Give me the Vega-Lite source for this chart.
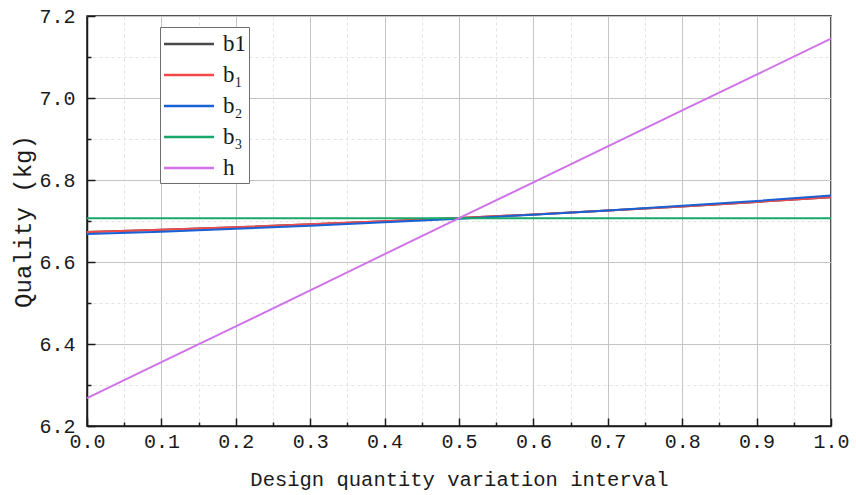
{
  "$schema": "https://vega.github.io/schema/vega-lite/v6.json",
  "width": 744,
  "height": 410,
  "autosize": {"type": "none"},
  "padding": {"left": 87, "top": 16, "right": 25, "bottom": 69},
  "background": "white",
  "config": {
    "view": {"stroke": "#1a1a1a", "strokeWidth": 1.5},
    "font": "Liberation Mono"
  },
  "data": {
    "values": [
      {"x": 0.0, "y": 6.673, "s": "b1"},
      {"x": 0.1, "y": 6.6785, "s": "b1"},
      {"x": 0.2, "y": 6.6848, "s": "b1"},
      {"x": 0.3, "y": 6.6918, "s": "b1"},
      {"x": 0.4, "y": 6.6993, "s": "b1"},
      {"x": 0.5, "y": 6.7073, "s": "b1"},
      {"x": 0.6, "y": 6.716, "s": "b1"},
      {"x": 0.7, "y": 6.7255, "s": "b1"},
      {"x": 0.8, "y": 6.7356, "s": "b1"},
      {"x": 0.9, "y": 6.7465, "s": "b1"},
      {"x": 1.0, "y": 6.758, "s": "b1"},
      {"x": 0.0, "y": 6.673, "s": "b₁"},
      {"x": 0.1, "y": 6.6785, "s": "b₁"},
      {"x": 0.2, "y": 6.6848, "s": "b₁"},
      {"x": 0.3, "y": 6.6918, "s": "b₁"},
      {"x": 0.4, "y": 6.6993, "s": "b₁"},
      {"x": 0.5, "y": 6.7073, "s": "b₁"},
      {"x": 0.6, "y": 6.716, "s": "b₁"},
      {"x": 0.7, "y": 6.7255, "s": "b₁"},
      {"x": 0.8, "y": 6.7356, "s": "b₁"},
      {"x": 0.9, "y": 6.7465, "s": "b₁"},
      {"x": 1.0, "y": 6.758, "s": "b₁"},
      {"x": 0.0, "y": 6.668, "s": "b₂"},
      {"x": 0.1, "y": 6.674, "s": "b₂"},
      {"x": 0.2, "y": 6.6808, "s": "b₂"},
      {"x": 0.3, "y": 6.6884, "s": "b₂"},
      {"x": 0.4, "y": 6.6967, "s": "b₂"},
      {"x": 0.5, "y": 6.7057, "s": "b₂"},
      {"x": 0.6, "y": 6.7154, "s": "b₂"},
      {"x": 0.7, "y": 6.7258, "s": "b₂"},
      {"x": 0.8, "y": 6.7369, "s": "b₂"},
      {"x": 0.9, "y": 6.7488, "s": "b₂"},
      {"x": 1.0, "y": 6.762, "s": "b₂"},
      {"x": 0.0, "y": 6.707, "s": "b₃"},
      {"x": 0.5, "y": 6.707, "s": "b₃"},
      {"x": 1.0, "y": 6.707, "s": "b₃"},
      {"x": 0.0, "y": 6.268, "s": "h"},
      {"x": 0.1, "y": 6.356, "s": "h"},
      {"x": 0.2, "y": 6.443, "s": "h"},
      {"x": 0.3, "y": 6.531, "s": "h"},
      {"x": 0.4, "y": 6.619, "s": "h"},
      {"x": 0.5, "y": 6.707, "s": "h"},
      {"x": 0.6, "y": 6.794, "s": "h"},
      {"x": 0.7, "y": 6.882, "s": "h"},
      {"x": 0.8, "y": 6.970, "s": "h"},
      {"x": 0.9, "y": 7.057, "s": "h"},
      {"x": 1.0, "y": 7.145, "s": "h"}
    ]
  },
  "resolve": {"axis": {"x": "independent", "y": "independent"}},
  "layer": [
    {
      "mark": {"type": "point", "opacity": 0},
      "encoding": {
        "x": {"field": "x", "type": "quantitative", "scale": {"domain": [0, 1], "nice": false, "zero": false},
          "axis": {"orient": "bottom", "values": [0.05, 0.15, 0.25, 0.35, 0.45, 0.55, 0.65, 0.75, 0.85, 0.95], "labels": false, "title": null, "domain": false,
            "ticks": true, "tickSize": -4, "tickColor": "#1a1a1a", "tickWidth": 1.5,
            "grid": true, "gridColor": "#e2e2e2", "gridDash": [3, 3], "gridWidth": 1}},
        "y": {"field": "y", "type": "quantitative", "scale": {"domain": [6.2, 7.2], "nice": false, "zero": false},
          "axis": {"orient": "left", "values": [6.3, 6.5, 6.7, 6.9, 7.1], "labels": false, "title": null, "domain": false,
            "ticks": true, "tickSize": -4, "tickColor": "#1a1a1a", "tickWidth": 1.5,
            "grid": true, "gridColor": "#e2e2e2", "gridDash": [3, 3], "gridWidth": 1}}
      }
    },
    {
      "mark": {"type": "point", "opacity": 0},
      "encoding": {
        "x": {"field": "x", "type": "quantitative", "scale": {"domain": [0, 1], "nice": false, "zero": false},
          "axis": {"orient": "bottom", "values": [0, 0.1, 0.2, 0.3, 0.4, 0.5, 0.6, 0.7, 0.8, 0.9, 1.0], "labels": false, "title": null, "domain": false,
            "ticks": true, "tickSize": -8, "tickColor": "#1a1a1a", "tickWidth": 1.5,
            "grid": true, "gridColor": "#c4c4c4", "gridWidth": 1}},
        "y": {"field": "y", "type": "quantitative", "scale": {"domain": [6.2, 7.2], "nice": false, "zero": false},
          "axis": {"orient": "left", "values": [6.2, 6.4, 6.6, 6.8, 7.0, 7.2], "labels": false, "title": null, "domain": false,
            "ticks": true, "tickSize": -8, "tickColor": "#1a1a1a", "tickWidth": 1.5,
            "grid": true, "gridColor": "#c4c4c4", "gridWidth": 1}}
      }
    },
    {
      "mark": {"type": "line", "strokeWidth": 2},
      "encoding": {
        "x": {"field": "x", "type": "quantitative", "scale": {"domain": [0, 1], "nice": false, "zero": false},
          "axis": {"orient": "bottom", "values": [0, 0.1, 0.2, 0.3, 0.4, 0.5, 0.6, 0.7, 0.8, 0.9, 1.0], "format": ".1f",
            "ticks": false, "grid": false, "domain": true, "domainColor": "#1a1a1a", "domainWidth": 1.5,
            "labelFont": "Liberation Mono", "labelFontSize": 20, "labelColor": "#1a1a1a", "labelPadding": 5, "labelFlush": false,
            "title": "Design quantity variation interval", "titleFont": "Liberation Mono", "titleFontSize": 20.5, "titleFontWeight": "normal", "titleColor": "#1a1a1a", "titlePadding": 18}},
        "y": {"field": "y", "type": "quantitative", "scale": {"domain": [6.2, 7.2], "nice": false, "zero": false},
          "axis": {"orient": "left", "values": [6.2, 6.4, 6.6, 6.8, 7.0, 7.2], "format": ".1f",
            "ticks": false, "grid": false, "domain": true, "domainColor": "#1a1a1a", "domainWidth": 1.5,
            "labelFont": "Liberation Mono", "labelFontSize": 20, "labelColor": "#1a1a1a", "labelPadding": 12, "labelFlush": false,
            "title": "Quality (kg)", "titleFont": "Liberation Mono", "titleFontSize": 24, "titleFontWeight": "normal", "titleColor": "#1a1a1a", "titlePadding": 3}},
        "color": {"field": "s", "type": "nominal",
          "scale": {"domain": ["b1", "b₁", "b₂", "b₃", "h"], "range": ["#4a4a4a", "#f24a4a", "#1862d6", "#17a86a", "#cf73e8"]},
          "legend": {"title": null, "orient": "none", "legendX": 73, "legendY": 11,
            "symbolType": "M-2,0L2,0", "symbolSize": 625, "symbolStrokeWidth": 2.5, "symbolOffset": 12,
            "labelFont": "Liberation Serif", "labelFontSize": 23, "labelColor": "#1a1a1a", "labelOffset": 20,
            "rowPadding": 5, "padding": 3, "strokeColor": "#6e6e6e", "fillColor": "white"}}
      }
    }
  ]
}
